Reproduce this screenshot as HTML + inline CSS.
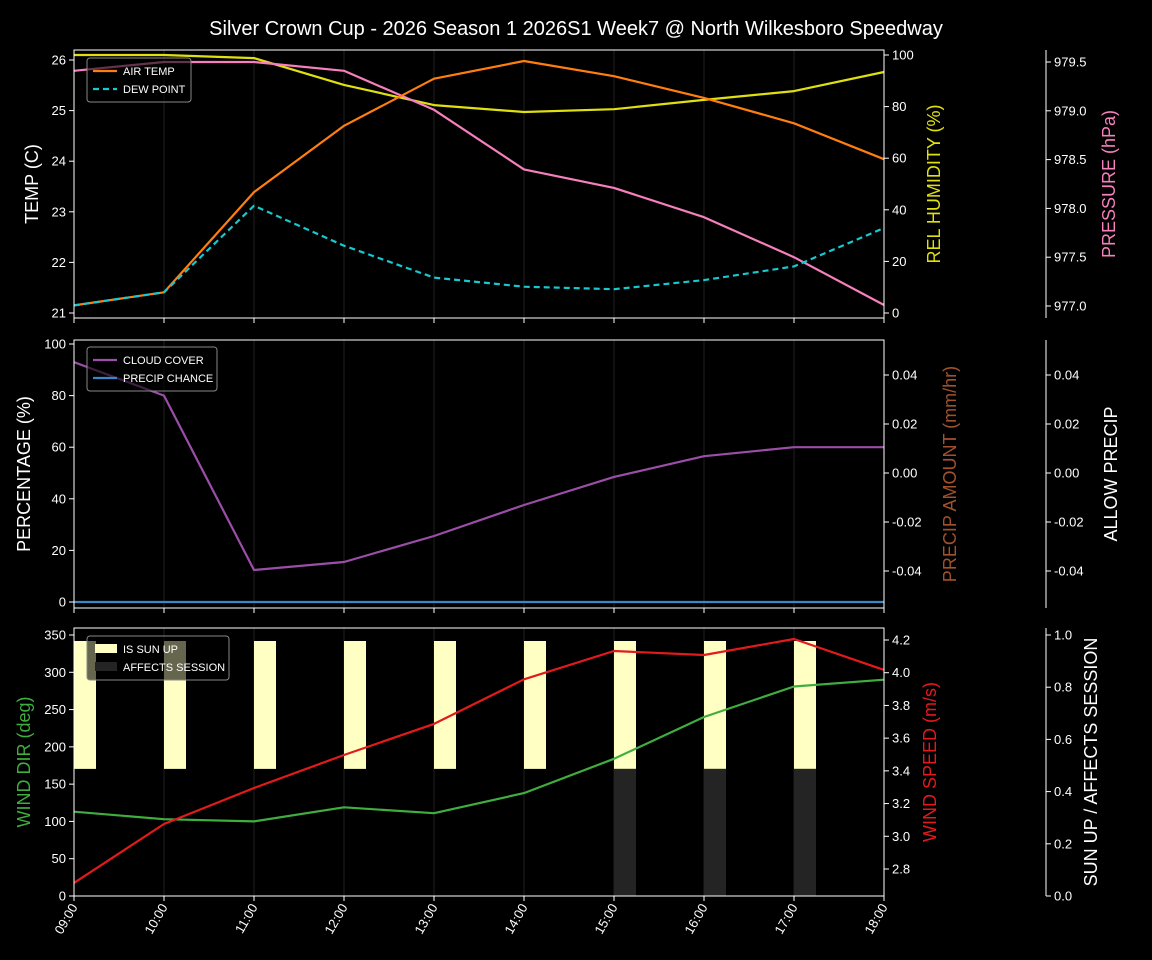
<!DOCTYPE html>
<html><head><meta charset="utf-8"><style>
html,body{margin:0;padding:0;background:#000;}
svg{display:block;font-family:"Liberation Sans","DejaVu Sans",sans-serif;}
</style></head><body>
<svg id="c" width="1152" height="960" viewBox="0 0 1152 960" xmlns="http://www.w3.org/2000/svg">
<rect width="1152" height="960" fill="#000"/>
<text x="576" y="35" fill="#fff" font-size="20" text-anchor="middle">Silver Crown Cup - 2026 Season 1 2026S1 Week7 @ North Wilkesboro Speedway</text>
</svg>
<script>
const hours=["09:00","10:00","11:00","12:00","13:00","14:00","15:00","16:00","17:00","18:00"];
const airTemp=[21.15,21.41,23.39,24.7,25.63,25.98,25.68,25.25,24.75,24.04];
const dewPoint=[21.15,21.41,23.12,22.33,21.7,21.52,21.47,21.65,21.92,22.68];
const relHumidity=[100,100,98.8,88.4,80.6,77.9,79,82.6,86,93.4];
const pressure=[979.41,979.5,979.5,979.41,979.01,978.4,978.21,977.91,977.5,977.01];
const cloudCover=[93,80,12.4,15.5,25.6,37.6,48.5,56.5,60,60];
const precipChance=[0,0,0,0,0,0,0,0,0,0];
const windDir=[113,103,100,119,111,138,184,240,281,290];
const windSpeed=[2.715,3.075,3.295,3.497,3.687,3.96,4.133,4.108,4.206,4.017];
const sunUp=[1,1,1,1,1,1,1,1,1,0];
const affects=[0,0,0,0,0,0,1,1,1,0];
const tempTicks=[21,22,23,24,25,26];
const rhTicks=[0,20,40,60,80,100];
const presTicks=["977.0","977.5","978.0","978.5","979.0","979.5"];
const pctTicks=[0,20,40,60,80,100];
const precipTicks=["0.04","0.02","0.00","-0.02","-0.04"];
const dirTicks=[0,50,100,150,200,250,300,350];
const spdTicks=["2.8","3.0","3.2","3.4","3.6","3.8","4.0","4.2"];
const sunTicks=["0.0","0.2","0.4","0.6","0.8","1.0"];

const svg=document.getElementById('c');
const NS="http://www.w3.org/2000/svg";
function el(tag,at,name,parent){const e=document.createElementNS(NS,tag);for(const k in at)e.setAttribute(k,at[k]);


(parent||svg).appendChild(e);return e;}
const X0=74,X1=884;
const xs=i=>X0+i*(X1-X0)/(hours.length-1);
function lin(d0,d1,p0,p1){return v=>p0+(v-d0)*(p1-p0)/(d1-d0);}
const panels=[[50,318],[340,608],[628,896]];
panels.forEach((p,pi)=>{
  hours.forEach((h,i)=>{if(i>0&&i<hours.length-1)el('line',{x1:xs(i),x2:xs(i),y1:p[0],y2:p[1],stroke:'#161616','stroke-width':1.5},'grid-line-'+pi);});
});
function line(vals,sc,color,name,dash){
  const pts=vals.map((v,i)=>xs(i).toFixed(1)+','+sc(v).toFixed(1)).join(' ');
  const a={points:pts,fill:'none',stroke:color,'stroke-width':2.2,'stroke-linejoin':'round'};
  if(dash)a['stroke-dasharray']=dash;
  el('polyline',a,name);
}
function yaxis(x,ticks,sc,side,name){
  const p=panels[name[1]];
  el('line',{x1:x,x2:x,y1:p[0],y2:p[1],stroke:'#fff','stroke-width':1},name[0]+'-spine');
  ticks.forEach(t=>{const y=sc(parseFloat(t));
    el('line',{x1:x,x2:x+(side<0?-5:5),y1:y,y2:y,stroke:'#fff'},name[0]+'-tick');
    const tx=el('text',{x:x+(side<0?-8:8),y:y+4.5,fill:'#fff','font-size':13,'text-anchor':side<0?'end':'start'},name[0]+'-tick-label');
    tx.textContent=t;});
}
function vlabel(x,y,txt,color,name,size){
  const t=el('text',{x:x,y:y,fill:color,'font-size':size||18,'text-anchor':'middle',transform:`rotate(-90 ${x} ${y})`},name);t.textContent=txt;
}
const sT=lin(21,26,313,60), sRH=lin(0,100,313,55), sP=lin(977,979.5,306,62);
line(relHumidity,sRH,'#e0e010','rel-humidity-line');
line(pressure,sP,'#f77fbe','pressure-line');
line(airTemp,sT,'#ff7f0e','air-temp-line');
line(dewPoint,sT,'#17c8cf','dew-point-line','6,4');
yaxis(X0,tempTicks.map(String),sT,-1,['temp-axis',0]);
yaxis(X1,rhTicks.map(String),sRH,1,['rh-axis',0]);
yaxis(1046,presTicks,sP,1,['pressure-axis',0]);
vlabel(38,184,'TEMP (C)','#fff','temp-axis-title');
vlabel(940,184,'REL HUMIDITY (%)','#e0e010','rh-axis-title');
vlabel(1115,184,'PRESSURE (hPa)','#f77fbe','pressure-axis-title');
const sPct=lin(0,100,602,344), sPr=lin(0,0.04,473,375);
line(cloudCover,sPct,'#9b4ea8','cloud-cover-line');
line(precipChance,sPct,'#3a87c8','precip-chance-line');
yaxis(X0,pctTicks.map(String),sPct,-1,['pct-axis',1]);
yaxis(X1,precipTicks,sPr,1,['precip-axis',1]);
yaxis(1046,precipTicks,sPr,1,['allow-precip-axis',1]);
vlabel(30,474,'PERCENTAGE (%)','#fff','pct-axis-title');
vlabel(956,474,'PRECIP AMOUNT (mm/hr)','#a0522d','precip-axis-title');
vlabel(1117,474,'ALLOW PRECIP','#fff','allow-precip-axis-title');
const sD=lin(0,350,896,635), sS=lin(2.8,4.2,869,640), sSun=lin(0,1,896,635);
const SUN_LO=0.487, SUN_HI=0.977;
hours.forEach((h,i)=>{
  if(sunUp[i]) el('rect',{x:xs(i),y:sSun(SUN_HI),width:22,height:sSun(SUN_LO)-sSun(SUN_HI),fill:'#ffffc4'},'sun-up-bar');
  if(affects[i]) el('rect',{x:xs(i),y:sSun(SUN_LO),width:22,height:sSun(0)-sSun(SUN_LO),fill:'#242424'},'affects-session-bar');
});
line(windDir,sD,'#3fae3f','wind-dir-line');
line(windSpeed,sS,'#e31a1c','wind-speed-line');
yaxis(X0,dirTicks.map(String),sD,-1,['dir-axis',2]);
yaxis(X1,spdTicks,sS,1,['speed-axis',2]);
yaxis(1046,sunTicks,sSun,1,['sun-axis',2]);
vlabel(30,762,'WIND DIR (deg)','#3fae3f','wind-dir-axis-title');
vlabel(936,762,'WIND SPEED (m/s)','#e31a1c','wind-speed-axis-title');
vlabel(1097,762,'SUN UP / AFFECTS SESSION','#fff','sun-axis-title');
panels.forEach((p,pi)=>{el('rect',{x:X0,y:p[0],width:X1-X0,height:p[1]-p[0],fill:'none',stroke:'#fff','stroke-width':1},'plot-frame-'+pi);});
hours.forEach((h,i)=>{const x=xs(i);
  panels.forEach(p=>el('line',{x1:x,x2:x,y1:p[1],y2:p[1]+5,stroke:'#fff'},'x-tick'));
  const t=el('text',{x:x+4,y:907,fill:'#fff','font-size':13,'text-anchor':'end',transform:`rotate(-60 ${x+4} 907)`},'x-tick-label');t.textContent=h;});
function legend(x,y,w,items,name){
  const g=el('g',{},name);
  el('rect',{x:x,y:y,width:w,height:items.length*18+8,rx:3,fill:'#000','fill-opacity':0.6,stroke:'#888'},name+'-box',g);
  items.forEach((it,k)=>{const cy=y+13+k*18;
    if(it.box) el('rect',{x:x+8,y:cy-5,width:22,height:9,fill:it.c},'legend-swatch',g);
    else el('line',{x1:x+6,x2:x+30,y1:cy,y2:cy,stroke:it.c,'stroke-width':2.2,'stroke-dasharray':it.d||'none'},'legend-swatch',g);
    const t=el('text',{x:x+36,y:cy+4,fill:'#fff','font-size':11},'legend-entry',g);t.textContent=it.t;});
}
legend(87,58,104,[{c:'#ff7f0e',t:'AIR TEMP'},{c:'#17c8cf',t:'DEW POINT',d:'6,4'}],'legend-temp');
legend(87,347,130,[{c:'#9b4ea8',t:'CLOUD COVER'},{c:'#3a87c8',t:'PRECIP CHANCE'}],'legend-precip');
legend(87,636,142,[{c:'#ffffc4',t:'IS SUN UP',box:1},{c:'#242424',t:'AFFECTS SESSION',box:1}],'legend-sun');
</script>
</body></html>
